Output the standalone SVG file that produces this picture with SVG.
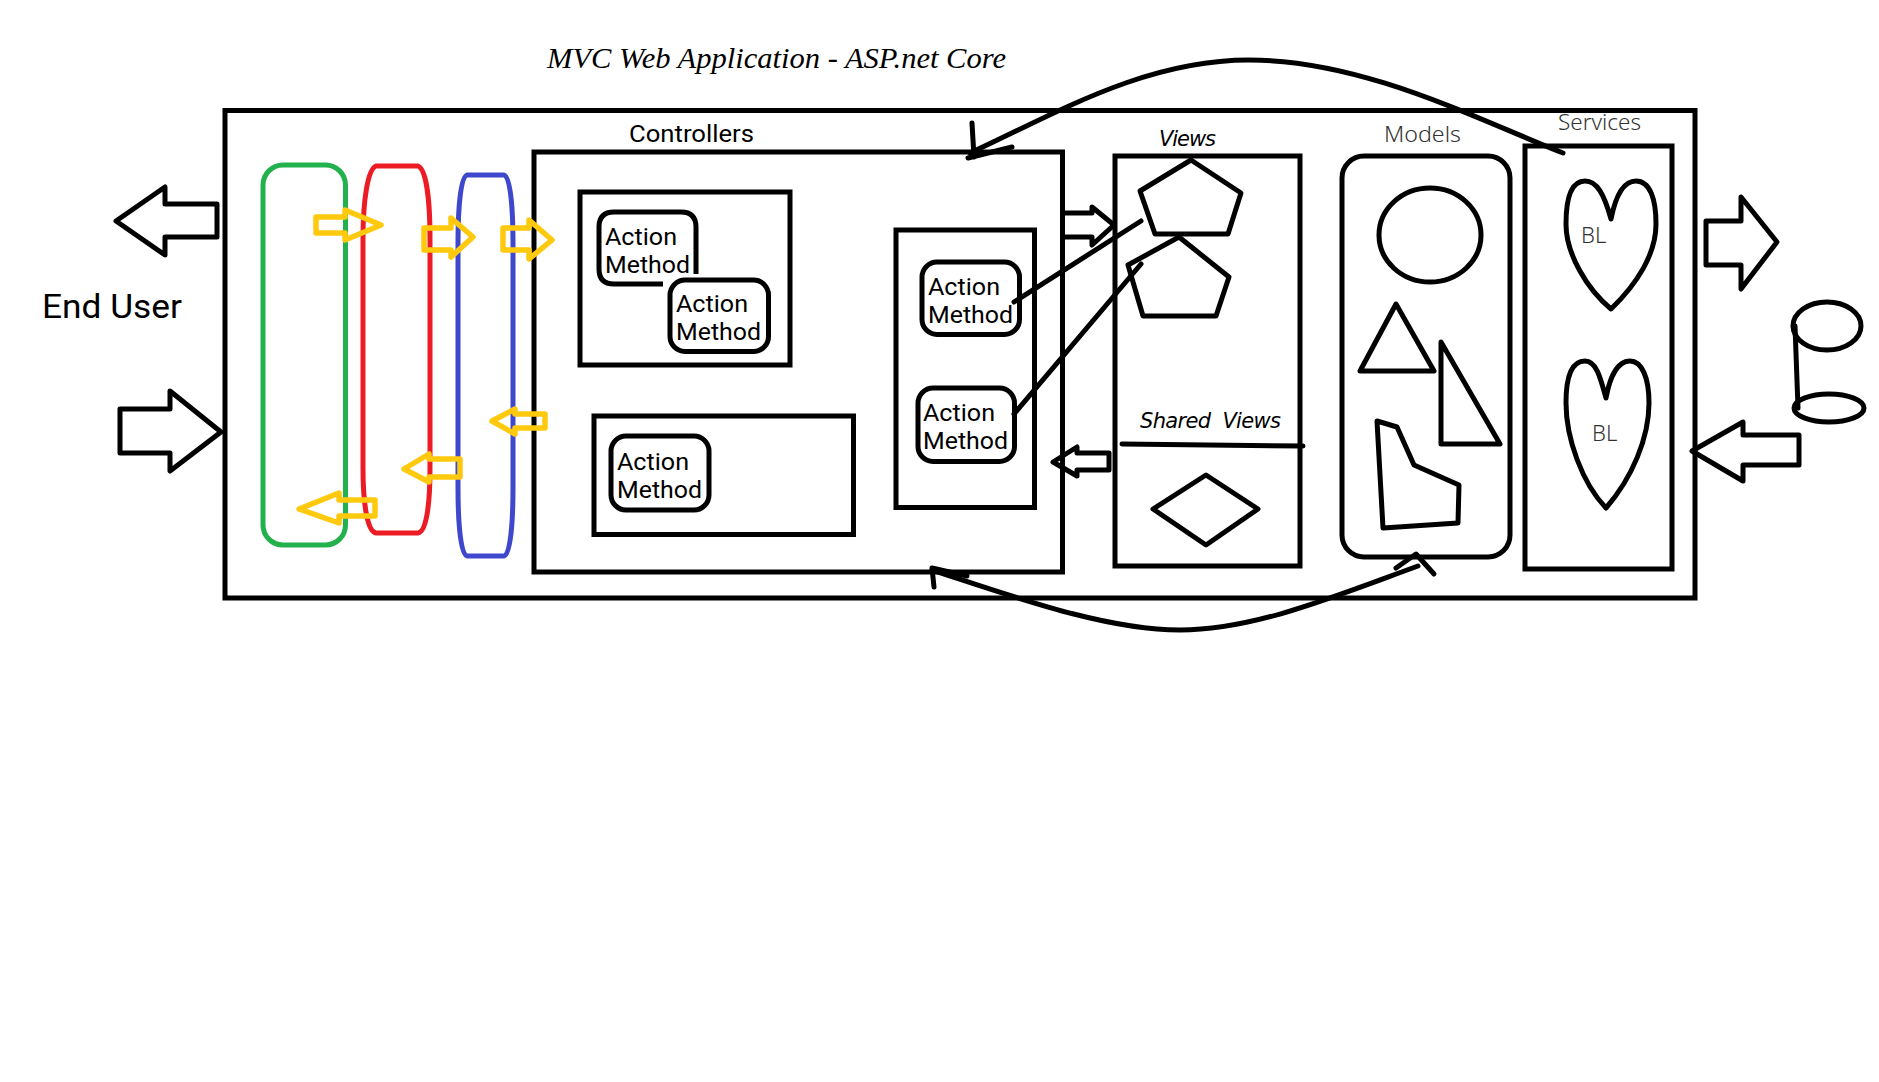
<svg xmlns="http://www.w3.org/2000/svg" width="1879" height="1082" viewBox="0 0 1879 1082">
<style>
.k{fill:none;stroke:#000;stroke-width:5;stroke-linejoin:miter}
.p{fill:none;stroke:#000;stroke-width:5;stroke-linejoin:round}
.r{fill:none;stroke:#000;stroke-width:5;stroke-linecap:round;stroke-linejoin:round}
.y{fill:none;stroke:#ffc90e;stroke-width:5.5;stroke-linejoin:round}
.t{font-family:Roboto,"Noto Sans",sans-serif;font-size:23.5px;fill:#000}
.h{font-family:"DejaVu Sans",sans-serif;font-style:italic;fill:#000;font-size:21px;white-space:pre}
.g{font-family:"Noto Sans","Open Sans",sans-serif;fill:#333;font-size:22px;font-weight:300}
</style>
<rect width="1879" height="1082" fill="#fff"/>
<g id="title"><text x="547" y="68" textLength="459" lengthAdjust="spacingAndGlyphs" style="font-family:'Liberation Serif',serif;font-style:italic;font-size:29px;fill:#000">MVC Web Application - ASP.net Core</text></g>
<g id="app"><rect class="k" x="225" y="110.5" width="1470" height="487.5"/></g>
<g id="end-user"><text class="t" x="42" y="318" textLength="140" lengthAdjust="spacingAndGlyphs" style="font-size:33px">End User</text></g>
<g id="middleware-green"><rect x="263" y="165" width="82.5" height="380" rx="20" fill="none" stroke="#22b14c" stroke-width="5"/></g>
<g id="middleware-red"><path d="M376,166H418C426,169 430,199 430,239V468C430,507 426,532 418,533H376C368,532 363,507 363,468V239C363,199 368,169 376,166Z" fill="none" stroke="#ed1c24" stroke-width="5"/></g>
<g id="middleware-blue"><path d="M467,175H504C510,177 513,204 513,244V487C513,527 510,554 504,556H467C461,554 458,527 458,487V244C458,204 461,177 467,175Z" fill="none" stroke="#3f48cc" stroke-width="5"/></g>
<g id="controllers">
<rect class="k" x="534" y="152" width="528.5" height="420"/>
<text class="t" x="629" y="142" textLength="125" lengthAdjust="spacingAndGlyphs">Controllers</text>
</g>
<g id="controller-1"><rect class="k" x="580" y="192" width="210" height="173"/></g>
<g id="action-1">
<path class="k" d="M696,274V227Q696,212 681,212H614Q599,212 599,227V269Q599,284 614,284H663"/>
<text class="t" x="605" y="245" textLength="72" lengthAdjust="spacingAndGlyphs">Action</text>
<text class="t" x="605" y="273" textLength="85" lengthAdjust="spacingAndGlyphs">Method</text>
</g>
<g id="action-2">
<rect class="k" x="670" y="280" width="98.5" height="71.5" rx="15"/>
<text class="t" x="676" y="312" textLength="72" lengthAdjust="spacingAndGlyphs">Action</text>
<text class="t" x="676" y="340" textLength="85" lengthAdjust="spacingAndGlyphs">Method</text>
</g>
<g id="controller-2"><rect class="k" x="594" y="416" width="259.5" height="118.5"/></g>
<g id="action-3">
<rect class="k" x="611" y="436" width="98" height="74" rx="15"/>
<text class="t" x="617" y="470" textLength="72" lengthAdjust="spacingAndGlyphs">Action</text>
<text class="t" x="617" y="498" textLength="85" lengthAdjust="spacingAndGlyphs">Method</text>
</g>
<g id="controller-3"><rect class="k" x="896" y="230" width="138.5" height="277.5"/></g>
<g id="action-4">
<rect class="k" x="922" y="262" width="97.5" height="72.5" rx="15"/>
<text class="t" x="928" y="294.5" textLength="72" lengthAdjust="spacingAndGlyphs">Action</text>
<text class="t" x="928" y="322.5" textLength="85" lengthAdjust="spacingAndGlyphs">Method</text>
</g>
<g id="action-5">
<rect class="k" x="918" y="388" width="96.5" height="73.5" rx="15"/>
<text class="t" x="923" y="421" textLength="72" lengthAdjust="spacingAndGlyphs">Action</text>
<text class="t" x="923" y="449" textLength="85" lengthAdjust="spacingAndGlyphs">Method</text>
</g>
<g id="views">
<rect class="k" x="1115" y="156" width="185" height="410"/>
<text class="h" x="1159" y="146" textLength="57">Views</text>
<polygon class="p" points="1191,160 1241,193 1228,234 1155,234 1140,191"/>
<polygon class="p" points="1179,237 1229,277 1216,316 1143,316 1128,265"/>
<text class="h" x="1140" y="428" textLength="141">Shared  Views</text>
<path class="r" d="M1122,444L1303,446"/>
<polygon class="p" points="1206,475 1258,509 1206,545 1153,509"/>
</g>
<g id="models">
<rect class="k" x="1342" y="156" width="168" height="401" rx="22"/>
<text class="g" x="1384" y="142" textLength="77" lengthAdjust="spacingAndGlyphs">Models</text>
<ellipse class="k" cx="1430" cy="235" rx="51" ry="47"/>
<polygon class="p" points="1396,304 1434,371 1360,371"/>
<polygon class="p" points="1441,342 1500,444 1441,444"/>
<polygon class="p" points="1377,421 1397,427 1414,465 1459,485 1458,523 1383,528"/>
</g>
<g id="services">
<rect class="k" x="1525" y="146" width="147" height="423"/>
<text class="g" x="1558" y="130" textLength="83" lengthAdjust="spacingAndGlyphs">Services</text>
<path class="p" d="M1611,219C1604,194 1597,181 1585,181C1571,181 1566,199 1566,224C1566,254 1587,289 1611,309C1637,284 1656,254 1656,224C1656,199 1650,181 1636,181C1624,181 1616,194 1611,219Z"/>
<text class="g" x="1581" y="243">BL</text>
<path class="p" d="M1606,398C1600,376 1596,361 1585,361C1571,361 1566,378 1566,403C1566,438 1582,483 1606,508C1632,478 1649,438 1649,403C1649,378 1642,361 1630,361C1618,361 1610,376 1606,398Z"/>
<text class="g" x="1592" y="441">BL</text>
</g>
<g id="database">
<ellipse class="k" cx="1827" cy="326" rx="34" ry="24"/>
<path class="r" d="M1795,326L1798,408"/>
<ellipse class="k" cx="1829" cy="408" rx="35" ry="14"/>
</g>
<g id="connectors">
<polygon class="p" points="116,221 165,187 165,204 217,204 217,237 165,237 165,255"/>
<polygon class="p" points="120,409 170,409 170,391 221,432 170,471 170,453 120,453"/>
<polygon class="p" points="1706,221 1741,221 1741,197 1777,242 1741,289 1741,265 1706,265"/>
<polygon class="p" points="1692,451 1743,422 1743,435 1799,435 1799,465 1743,465 1743,481"/>
<path class="p" d="M1065,213H1092V207L1114,225L1092,245V237H1065"/>
<polygon class="p" points="1053,462 1077,447 1077,453 1109,453 1109,470 1077,470 1077,476"/>
<polygon class="y" points="316,217 345,217 345,210 381,225 345,240 345,233 316,233"/>
<polygon class="y" points="424,228 451,228 451,218 473,237 451,257 451,250 424,250"/>
<polygon class="y" points="503,228 529,228 529,220 552,240 529,259 529,250 503,250"/>
<polygon class="y" points="492,421 515,409 515,414 545,414 545,428 515,428 515,434"/>
<polygon class="y" points="404,469 429,454 429,459 460,459 460,477 429,477 429,482"/>
<polygon class="y" points="299,509 339,493 339,500 375,500 375,516 339,516 339,523"/>
<path class="r" d="M1014,302L1141,221"/>
<path class="r" d="M1014,414L1141,264"/>
<path class="r" d="M1563,153C1472,117 1363,60 1249,60C1144,60 1055,114 970,153"/>
<path class="r" d="M972,123L974,157M968,158L1012,147"/>
<path class="r" d="M1418,566C1333,597 1254,630 1180,630C1105,630 1015,597 932,570"/>
<path class="r" d="M932,568L934,587M932,568L967,576"/>
<path class="r" d="M1396,568L1416,554L1434,574"/>
</g>
</svg>
